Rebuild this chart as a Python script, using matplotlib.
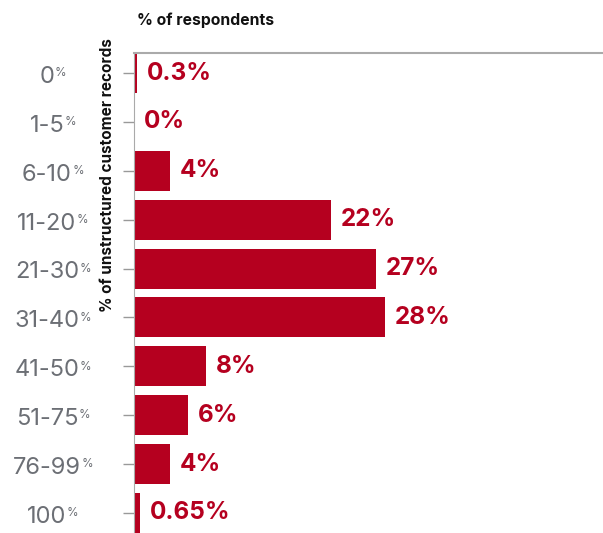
import matplotlib.pyplot as plt
from matplotlib.transforms import blended_transform_factory

plt.rcParams['font.family'] = ['Inter', 'DejaVu Sans']

# share of respondents by % of unstructured customer records
ranges = ['0', '1-5', '6-10', '11-20', '21-30', '31-40', '41-50', '51-75', '76-99', '100']
values = [0.3, 0, 4, 22, 27, 28, 8, 6, 4, 0.65]
labels = ['0.3%', '0%', '4%', '22%', '27%', '28%', '8%', '6%', '4%', '0.65%']

red = '#b5001f'
grey = '#6c6f75'

fig = plt.figure(figsize=(6.03, 5.33), dpi=100)
ax = fig.add_axes([134/603, 0, 469/603, 480/533])

pos = list(range(len(ranges)))
ax.barh(pos, values, height=0.82, color=red)
ax.set_ylim(9.41, -0.41)
ax.set_xlim(0, 52.3)

for p, v, lab in zip(pos, values, labels):
    ax.annotate(lab, xy=(v, p), xytext=(7, 0), textcoords='offset points',
                ha='left', va='center', color=red, fontsize=17.5, fontweight='bold')

# category labels with a small raised percent sign
trans = blended_transform_factory(fig.transFigure, ax.transData)
for p, r in zip(pos, ranges):
    t = ax.text(47/603, p + 0.08, r, transform=trans, ha='center', va='center',
                color=grey, fontsize=17)
    ax.annotate('%', xy=(1, 0.5), xycoords=t, xytext=(0.3, 7), textcoords='offset points',
                ha='left', va='top', color=grey, fontsize=8.5)

ax.set_yticks(pos)
ax.set_yticklabels([])
ax.set_xticks([])
ax.tick_params(axis='y', length=8, width=1, color='#999999')
for s in ['right', 'bottom']:
    ax.spines[s].set_visible(False)
ax.spines['left'].set_color('#aaaaaa')
ax.spines['top'].set_color('#aaaaaa')
ax.spines['top'].set_linewidth(1.5)

fig.text(137/603, 1 - 20/533, '% of respondents', fontsize=11.3, fontweight='bold',
         ha='left', va='center', color='#111111')
fig.text(108/603, 1 - 175/533, '% of unstructured customer records', fontsize=11,
         fontweight='bold', rotation=90, ha='center', va='center', color='#111111')

fig.savefig('out.png', dpi=100)
